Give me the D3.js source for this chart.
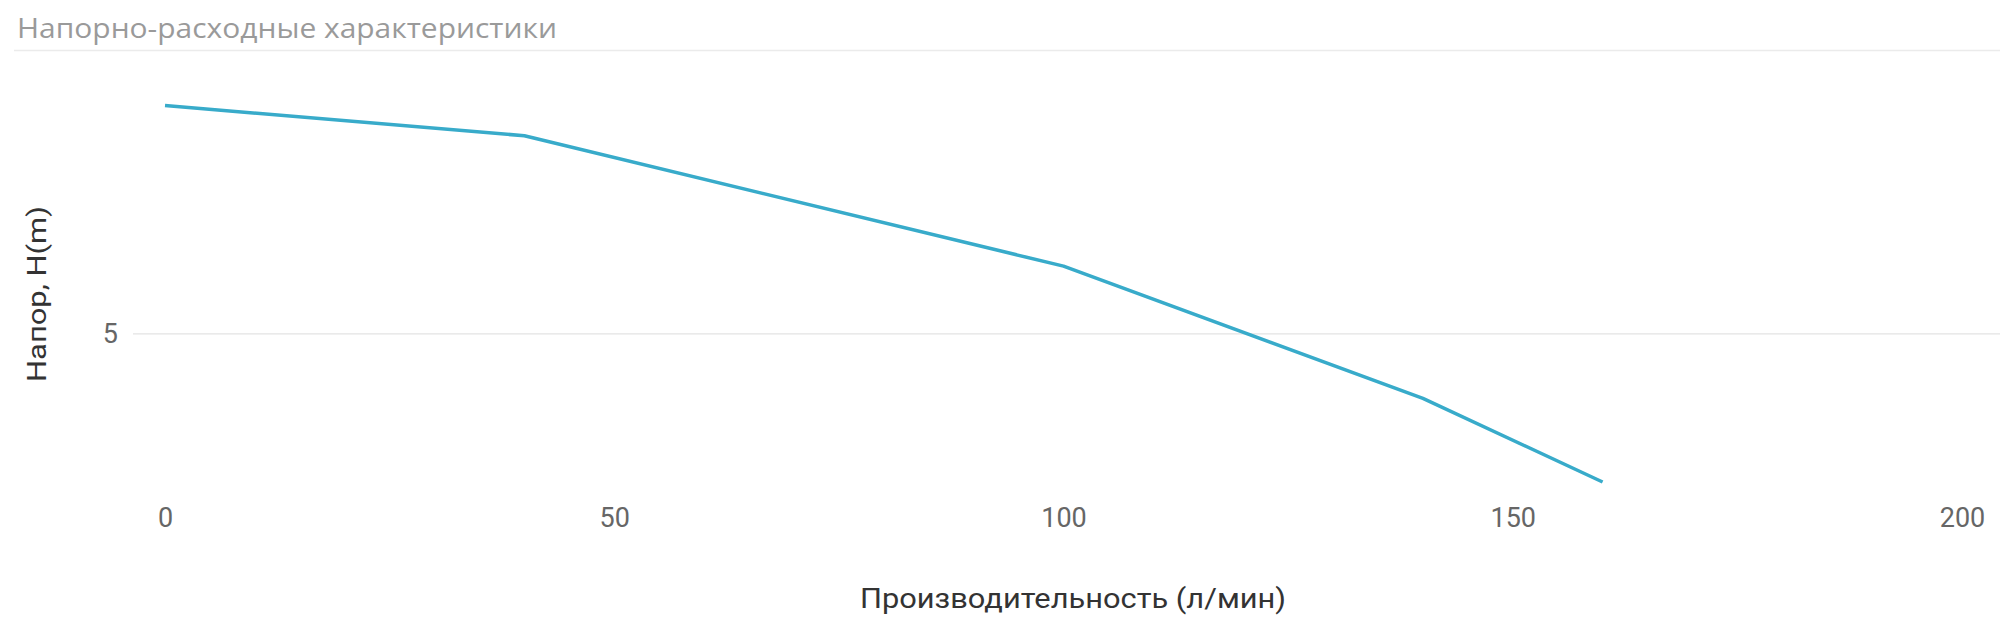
<!DOCTYPE html>
<html>
<head>
<meta charset="utf-8">
<script src="https://cdn.jsdelivr.net/npm/d3@7/dist/d3.min.js"></script>
<style>
  html, body { margin: 0; padding: 0; background: #ffffff; }
  svg { display: block; }
</style>
</head>
<body>
<div id="chart"></div>
<script>
// ---- data ----
const flow = [0, 40, 100, 140, 160];          // л/мин
const head = [9.0, 8.47, 6.18, 3.86, 2.39];    // H (m)
const xTicks = [0, 50, 100, 150, 200];
const yTicks = [5];
const chartTitle = "Напорно-расходные характеристики";
const xTitle = "Производительность (л/мин)";
const yTitle = "Напор, H(m)";

// ---- layout ----
const W = 2000, H = 644;
const svg = d3.select("#chart").append("svg").attr("width", W).attr("height", H);

const x = d3.scaleLinear().domain([0, 200]).range([165, 1962]);
const y = d3.scaleLinear().domain([2.25, 9.8]).range([490, 60]);

// title
svg.append("text")
  .attr("x", 17).attr("y", 38)
  .attr("font-family", "Open Sans, sans-serif")
  .attr("font-size", 28)
  .attr("textLength", 540)
  .attr("lengthAdjust", "spacingAndGlyphs")
  .attr("fill", "#9a9a9a")
  .text(chartTitle);
svg.append("line")
  .attr("x1", 14).attr("x2", W).attr("y1", 50.5).attr("y2", 50.5)
  .attr("stroke", "#ebebeb").attr("stroke-width", 1.5);

// y grid + labels
const yAxis = d3.axisLeft(y).tickValues(yTicks).tickSize(-(W - 133)).tickPadding(15);
const gy = svg.append("g").attr("transform", "translate(133,0)").call(yAxis);
gy.select(".domain").remove();
gy.selectAll(".tick line").attr("stroke", "#e3e3e3").attr("stroke-width", 1.2);
gy.selectAll(".tick text")
  .attr("font-family", "Roboto, sans-serif")
  .attr("font-size", 27)
  .attr("fill", "#666");

// x labels
const xAxis = d3.axisBottom(x).tickValues(xTicks).tickSize(0).tickPadding(0);
const gx = svg.append("g").attr("transform", "translate(0,508)").call(xAxis);
gx.select(".domain").remove();
gx.selectAll(".tick text")
  .attr("font-family", "Roboto, sans-serif")
  .attr("font-size", 27)
  .attr("fill", "#666")
  .attr("dy", "0.71em");

// axis titles
svg.append("text")
  .attr("x", 1073).attr("y", 608)
  .attr("text-anchor", "middle")
  .attr("font-family", "Roboto, sans-serif")
  .attr("font-size", 27)
  .attr("textLength", 426)
  .attr("lengthAdjust", "spacingAndGlyphs")
  .attr("fill", "#333")
  .text(xTitle);
svg.append("text")
  .attr("transform", "translate(46,294) rotate(-90)")
  .attr("text-anchor", "middle")
  .attr("font-family", "Roboto, sans-serif")
  .attr("font-size", 26)
  .attr("textLength", 176)
  .attr("lengthAdjust", "spacingAndGlyphs")
  .attr("fill", "#333")
  .text(yTitle);

// line
const pts = flow.map((f, i) => [f, head[i]]);
svg.append("path")
  .datum(pts)
  .attr("fill", "none")
  .attr("stroke", "#38abca")
  .attr("stroke-width", 3.5)
  .attr("stroke-linejoin", "round")
  .attr("d", d3.line().x(d => x(d[0])).y(d => y(d[1])));
</script>
</body>
</html>
